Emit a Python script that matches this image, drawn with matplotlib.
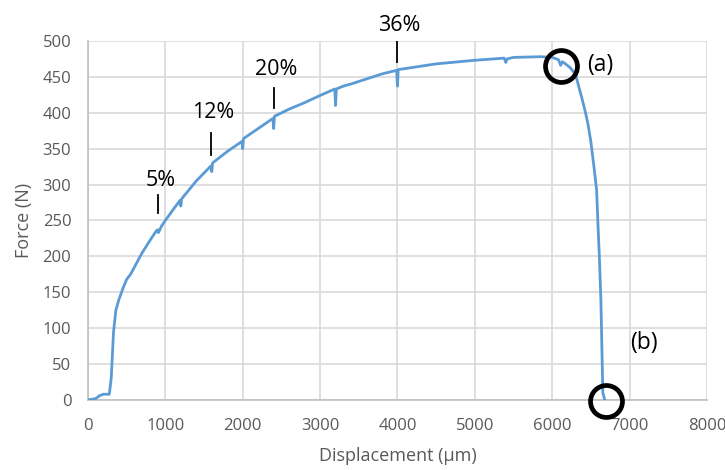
import matplotlib
matplotlib.use("Agg")
import matplotlib.pyplot as plt
import numpy as np

# force-displacement curve
disp = [0, 100, 150, 200, 250, 275, 300, 330, 360, 400, 450, 500, 550, 600, 700, 800,
        880, 900, 910, 950, 1000, 1100, 1190, 1200, 1210, 1400, 1590, 1600, 1610, 1800,
        1990, 2000, 2010, 2200, 2390, 2400, 2410, 2600, 2800, 3000, 3190, 3200, 3210,
        3300, 3400, 3600, 3800, 3990, 4000, 4010, 4500, 5000, 5380, 5400, 5420, 5500,
        5850, 6000, 6080, 6110, 6130, 6160, 6230, 6300, 6380, 6420, 6460, 6500, 6525,
        6550, 6575, 6590, 6610, 6630, 6655, 6680]
force = [0, 2, 6, 8, 8, 8, 30, 95, 125, 140, 155, 168, 175, 185, 205, 222,
         235, 237, 233, 242, 250, 265, 278, 270, 280, 305, 326, 318, 330, 346,
         360, 350, 364, 378, 392, 378, 395, 405, 414, 424, 433, 410, 433,
         437, 440, 447, 454, 459, 437, 460, 468, 473, 476, 470, 475, 477,
         478, 477, 474, 466, 471, 469, 463, 454, 422, 405, 386, 360, 338,
         316, 292, 250, 200, 139, 10, 0]

labels = ["5%", "12%", "20%", "36%"]
label_x = [910, 1590, 2400, 3990]
tick_lo = [260, 341, 407, 471]
tick_hi = [285, 372, 435, 500]
text_y = [306, 400, 460, 522]

circle_x = [6111, 6692]
circle_y = [465, -1]
circle_txt = ["(a)", "(b)"]
circle_txt_x = [6447, 7003]
circle_txt_y = [466, 79]

plt.rcParams['font.family'] = ['Open Sans', 'DejaVu Sans']

fig = plt.figure(figsize=(7.25, 4.7), dpi=100)
ax = fig.add_axes([0.1214, 0.149, 0.8536, 0.764])

ax.plot(disp, force, color='#5b9bd5', lw=2, zorder=3)

for lab, x, lo, hi, ty in zip(labels, label_x, tick_lo, tick_hi, text_y):
    ax.plot([x, x], [lo, hi], color='black', lw=1.3, zorder=4)
    ax.text(x + 30, ty, lab, ha='center', va='center', fontsize=15.5, color='black')

ax.plot(circle_x, circle_y, ls='none', marker='o', ms=23, mfc='none',
        mec='black', mew=3.4, zorder=5, clip_on=False)
for t, x, y in zip(circle_txt, circle_txt_x, circle_txt_y):
    ax.text(x, y, t, ha='left', va='center', fontsize=16.5, color='black')

ax.set_xlim(0, 8000)
ax.set_ylim(0, 500)
ax.set_xticks(np.arange(0, 8001, 1000))
ax.set_yticks(np.arange(0, 501, 50))
ax.grid(True, color='#d9d9d9', lw=1.2)
ax.set_axisbelow(True)
for s in ['top', 'right']:
    ax.spines[s].set_visible(False)
for s in ['left', 'bottom']:
    ax.spines[s].set_color('#bfbfbf')
    ax.spines[s].set_linewidth(1.2)
ax.tick_params(length=0, labelsize=12, labelcolor='#595959')
ax.tick_params(axis='y', pad=12)
ax.tick_params(axis='x', pad=13)
ax.set_xlabel('Displacement (µm)', fontsize=13, color='#595959', labelpad=9)
ax.set_ylabel('Force (N)', fontsize=13, color='#595959', labelpad=7)

fig.savefig('out.png', dpi=100)
